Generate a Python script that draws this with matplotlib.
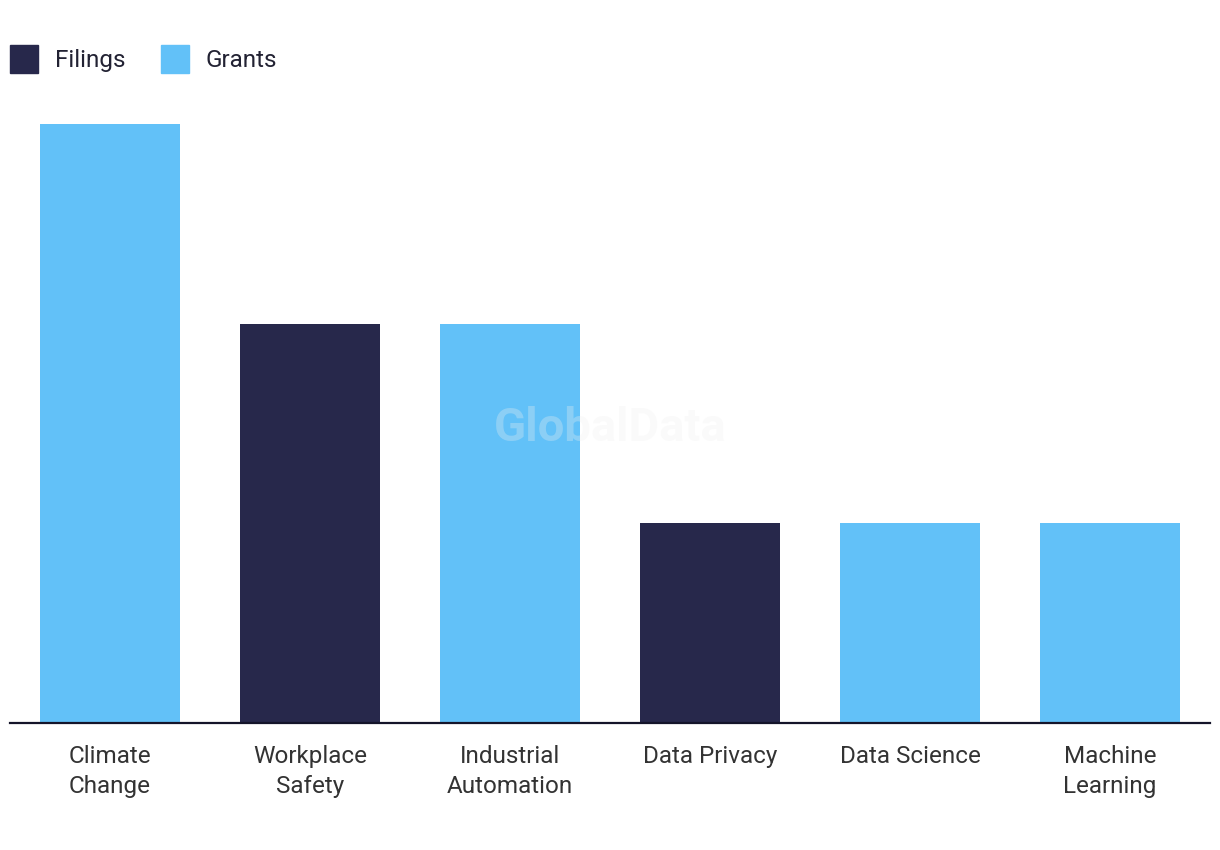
import numpy as np
import matplotlib.pyplot as plt
from matplotlib.patches import Patch

# data
categories = ["Climate\nChange", "Workplace\nSafety", "Industrial\nAutomation",
              "Data Privacy", "Data Science", "Machine\nLearning"]
values = [3, 2, 2, 1, 1, 1]
series = ["Grants", "Filings", "Grants", "Filings", "Grants", "Grants"]

colors = {"Filings": "#27284b", "Grants": "#62c1f8"}
plt.rcParams['font.family'] = ['Roboto', 'DejaVu Sans']

fig = plt.figure(figsize=(12.2, 8.5), dpi=100)
ax = fig.add_axes([10/1220, 127/850, 1200/1220, 599/850])

x = np.arange(len(categories))
ax.bar(x, values, width=0.7, color=[colors[s] for s in series], zorder=2)

ax.set_xlim(-0.5, len(categories) - 0.5)
ax.set_ylim(0, 3)
ax.set_xticks(x)
ax.set_xticklabels(categories, fontsize=17.5, color="#333333", linespacing=1.35)
ax.tick_params(axis="x", length=0, pad=16)
ax.set_yticks([])
for side in ["top", "right", "left"]:
    ax.spines[side].set_visible(False)
ax.spines["bottom"].set_color("#14142a")
ax.spines["bottom"].set_linewidth(1.6)
ax.spines["bottom"].set_zorder(3)

# watermark
fig.text(0.5, 0.497, "GlobalData", fontsize=34, fontweight="bold",
         color="#f0f0f0", alpha=0.3, ha="center", va="center", zorder=5)

handles = [Patch(color=colors["Filings"], label="Filings"),
           Patch(color=colors["Grants"], label="Grants")]
fig.legend(handles=handles, loc="upper left", bbox_to_anchor=(10/1220, 1 - 45/850),
           ncol=2, frameon=False, fontsize=17.5, handlelength=1.15, handleheight=1.4,
           handletextpad=0.7, columnspacing=1.45, borderpad=0, borderaxespad=0,
           labelcolor="#222233")

fig.savefig("out.png", dpi=100)
